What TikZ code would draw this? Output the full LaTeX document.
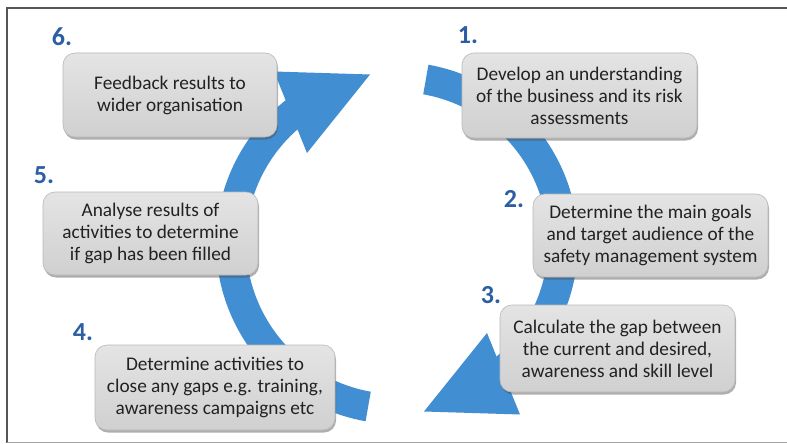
\documentclass[tikz,border=0pt]{standalone}
\usepackage{fontspec}
\setmainfont{Carlito}
\usetikzlibrary{shadows}
\definecolor{bandblue}{RGB}{66,142,210}
\definecolor{numblue}{RGB}{44,94,164}
\definecolor{boxtop}{RGB}{228,228,228}
\definecolor{boxbot}{RGB}{208,208,208}
\definecolor{boxline}{RGB}{185,185,185}
\definecolor{txt}{RGB}{34,34,34}
\definecolor{framecol}{RGB}{85,85,85}
\definecolor{framelight}{RGB}{165,165,165}
\begin{document}
\begin{tikzpicture}[x=1pt,y=-1pt,
  stepbox/.style={rectangle, rounded corners=12pt, draw=boxline, line width=0.6pt,
    top color=boxtop, bottom color=boxbot, align=center, text=txt,
    font=\fontsize{19.3}{22}\selectfont, inner sep=0pt,
    drop shadow={shadow xshift=1pt, shadow yshift=-2.5pt, opacity=0.45, fill=black!70}},
  numlabel/.style={text=numblue, font=\fontsize{26}{26}\selectfont\bfseries, inner sep=0pt},
  band/.style={fill=bandblue}]
\useasboundingbox (0,0) rectangle (787,444);
\fill[white] (0,0) rectangle (787,444);
% frame
\draw[framecol, line width=1.4pt] (787,8) -- (7,8) -- (7,442.5);
\draw[framelight, line width=1pt] (7,442.8) -- (787,442.8);
% arrow 1: top -> right -> bottom
\fill[band] plot[domain=80:-55, samples=70] ({397+181*cos(\x)},{243-181*sin(\x)})
  -- plot[domain=-55:80, samples=70] ({397+151*cos(\x)},{243-151*sin(\x)}) -- cycle;
\fill[band] (520,414.5) -- (487,333) -- (424,411.5) -- cycle;
% arrow 2: bottom -> left -> top
\fill[band] plot[domain=260:125, samples=70] ({397+181*cos(\x)},{243-181*sin(\x)})
  -- plot[domain=125:260, samples=70] ({397+151*cos(\x)},{243-151*sin(\x)}) -- cycle;
\fill[band] (274,71.5) -- (307,153) -- (370,74.5) -- cycle;
% boxes
\node[stepbox, minimum width=214pt, minimum height=84pt] (b6) at (170,95)
  {Feedback results to\\wider organisation};
\node[stepbox, minimum width=235pt, minimum height=85pt] (b1) at (579.5,95.5)
  {Develop an understanding\\of the business and its risk\\assessments};
\node[stepbox, minimum width=235pt, minimum height=83pt] (b2) at (650.5,235.5)
  {Determine the main goals\\and target audience of the\\safety management system};
\node[stepbox, minimum width=235pt, minimum height=87pt] (b3) at (617.5,348.5)
  {Calculate the gap between\\the current and desired,\\awareness and skill level};
\node[stepbox, minimum width=215pt, minimum height=83pt] (b5) at (150.5,233.5)
  {Analyse results of\\activities to determine\\if gap has been filled};
\node[stepbox, minimum width=240pt, minimum height=85pt] (b4) at (215,387.5)
  {Determine activities to\\close any gaps e.g. training,\\awareness campaigns etc};
% numbers
\node[numlabel] (n6) at (62,37) {6.};
\node[numlabel] (n1) at (468,35) {1.};
\node[numlabel] (n2) at (514,199) {2.};
\node[numlabel] (n3) at (491,295) {3.};
\node[numlabel] (n5) at (44,175) {5.};
\node[numlabel] (n4) at (83,332) {4.};
\end{tikzpicture}
\end{document}
